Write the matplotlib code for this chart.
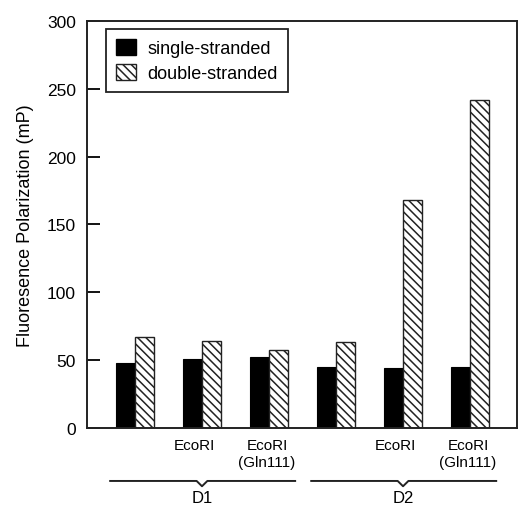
import numpy as np
import matplotlib.pyplot as plt
from matplotlib.patches import Patch

# data
categories = ['', 'EcoRI', 'EcoRI\n(Gln111)', '', 'EcoRI', 'EcoRI\n(Gln111)']
groups = ['D1', 'D2']
group_members = [[0, 1, 2], [3, 4, 5]]
single = [48, 51, 52, 45, 44, 45]
double = [67, 64, 57, 63, 168, 242]
y_ticks = [0, 50, 100, 150, 200, 250, 300]

plt.rcParams['font.family'] = ['Liberation Sans', 'DejaVu Sans']
plt.rcParams['hatch.linewidth'] = 1.1

fig = plt.figure(figsize=(5.19, 5.06), dpi=100)
ax = fig.add_axes([0.1676, 0.1528, 0.8285, 0.8037])

x = np.arange(len(categories))
w = 0.285
ax.bar(x - w / 2, single, w, color='black', edgecolor='black', linewidth=0.8)
ax.bar(x + w / 2, double, w, color='white', edgecolor='#222222',
       hatch='\\\\\\\\', linewidth=1.0)

ax.set_xlim(-0.716, 5.70)
ax.set_ylim(0, 300)
ax.set_yticks(y_ticks)
ax.set_xticks([])
ax.tick_params(axis='y', direction='in', length=9, width=1.3, labelsize=12.5, pad=8)
for s in ax.spines.values():
    s.set_linewidth(1.4)
    s.set_color('#222222')
ax.set_ylabel('Fluoresence Polarization (mP)', fontsize=13, labelpad=9)

# category labels under bars
for xi, lab in zip(x, categories):
    shift = -0.03 if '\n' in lab else -0.12
    ax.text(xi + shift, -0.026, lab, transform=ax.get_xaxis_transform(),
            ha='center', va='top', fontsize=11, linespacing=1.25)

# group braces
tr = ax.get_xaxis_transform()
for name, mem in zip(groups, group_members):
    x0, x1, xm = mem[0] - 0.37, mem[-1] + 0.39, np.mean(mem)
    yb = -0.131
    ax.plot([x0, xm - 0.08, xm, xm + 0.08, x1], [yb, yb, yb - 0.013, yb, yb],
            transform=tr, clip_on=False, color='#222222', lw=1.4)
    ax.text(xm, -0.172, name, transform=tr, ha='center', va='center', fontsize=12)

handles = [Patch(facecolor='black', edgecolor='black'),
           Patch(facecolor='white', edgecolor='#222222', hatch='\\\\\\\\')]
leg = ax.legend(handles, ['single-stranded', 'double-stranded'],
                loc='upper left', bbox_to_anchor=(0.044, 0.98), borderaxespad=0,
                fancybox=False, edgecolor='#222222', fontsize=13,
                handlelength=1.1, handleheight=0.95, handletextpad=0.65,
                borderpad=0.55, labelspacing=0.4, framealpha=1)
leg.get_frame().set_linewidth(1.3)

fig.savefig('out.png', dpi=100)
